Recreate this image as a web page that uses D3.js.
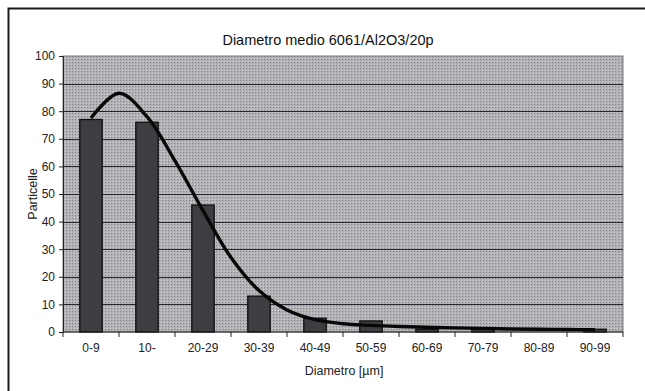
<!DOCTYPE html>
<html>
<head>
<meta charset="utf-8">
<script src="https://cdn.jsdelivr.net/npm/d3@7"></script>
<style>
  body { margin: 0; background: #fff; }
  svg { display: block; font-family: "Liberation Sans", Arial, sans-serif; }
</style>
</head>
<body>
<div id="chart"></div>
<script>
// DATA
////////////////////////////
var categories = ['0-9', '10-', '20-29', '30-39', '40-49', '50-59', '60-69', '70-79', '80-89', '90-99'];
var counts     = [77, 76, 46, 13, 5, 4, 1, 1, 0, 1];
// fitted curve, read at half-category steps (position in categories, value)
var curvePos   = [0, 0.5, 1, 1.5, 2, 2.5, 3, 3.5, 4, 4.5, 5, 5.5, 6, 6.5, 7, 7.5, 8, 8.5, 9];
var curveVal   = [77.5, 86.5, 78, 62, 44, 27, 15, 8, 4.5, 3, 2.4, 2, 1.7, 1.5, 1.3, 1.1, 1, 0.9, 0.8];
var yTicks     = [0, 10, 20, 30, 40, 50, 60, 70, 80, 90, 100];

// SETUP
////////////////////////////
var width = 645,
    height = 391;
var margin = {top: 56, right: 22, bottom: 59, left: 63};
var w = width - margin.left - margin.right,
    h = height - margin.top - margin.bottom;

var svg = d3.select('#chart').append('svg')
    .attr('width', width)
    .attr('height', height);

// dotted grey fill like the printed plot area
var defs = svg.append('defs');
var pat = defs.append('pattern')
    .attr('id', 'dots')
    .attr('width', 3).attr('height', 3)
    .attr('patternUnits', 'userSpaceOnUse');
pat.append('rect').attr('width', 3).attr('height', 3).attr('fill', '#b2b2b6');
pat.append('rect').attr('width', 1).attr('height', 1).attr('fill', '#858589');
pat.append('rect').attr('x', 2).attr('y', 2).attr('width', 1).attr('height', 1).attr('fill', '#cfcfd0');

// outer chart border (runs off right/bottom edge)
svg.append('rect')
    .attr('x', 8.5).attr('y', 8.5)
    .attr('width', 660).attr('height', 400)
    .attr('fill', 'none')
    .attr('stroke', '#1a1a1a')
    .attr('stroke-width', 2);

var g = svg.append('g')
    .attr('transform', 'translate(' + margin.left + ',' + margin.top + ')');

// scales
var x = d3.scaleBand()
    .domain(categories)
    .range([0, w])
    .paddingInner(0.6)
    .paddingOuter(0.3);
var y = d3.scaleLinear()
    .domain([0, 100])
    .range([h, 0]);
var xPos = d3.scaleLinear()   // numeric position -> band centre
    .domain([0, categories.length - 1])
    .range([x(categories[0]) + x.bandwidth() / 2, x(categories[categories.length - 1]) + x.bandwidth() / 2]);

// plot area
g.append('rect')
    .attr('width', w).attr('height', h)
    .attr('fill', 'url(#dots)')
    .attr('stroke', '#7a7a7a')
    .attr('stroke-width', 1);

// gridlines
g.selectAll('.grid')
  .data(yTicks.slice(1, -1))
  .enter().append('line')
    .attr('class', 'grid')
    .attr('x1', 0).attr('x2', w)
    .attr('y1', function(d) { return Math.round(y(d)) + 0.5; })
    .attr('y2', function(d) { return Math.round(y(d)) + 0.5; })
    .attr('stroke', '#26262e')
    .attr('stroke-width', 1);

// bars
g.selectAll('.bar')
  .data(counts)
  .enter().append('rect')
    .attr('class', 'bar')
    .attr('x', function(d, i) { return x(categories[i]); })
    .attr('y', function(d) { return y(d); })
    .attr('width', x.bandwidth())
    .attr('height', function(d) { return h - y(d); })
    .attr('fill', '#3e3e42')
    .attr('stroke', '#0e0e0e')
    .attr('stroke-width', 1.3);

// fitted curve
var line = d3.line()
    .x(function(d, i) { return xPos(curvePos[i]); })
    .y(function(d) { return y(d); })
    .curve(d3.curveCatmullRom.alpha(0.5));
g.append('path')
    .datum(curveVal)
    .attr('d', line)
    .attr('fill', 'none')
    .attr('stroke', '#080808')
    .attr('stroke-width', 3.4);

// axes
var xAxis = g.append('g')
    .attr('transform', 'translate(0,' + h + ')');
xAxis.append('line')
    .attr('x1', 0).attr('x2', w)
    .attr('stroke', '#222');
var step = x.step();
xAxis.selectAll('.xtick')
  .data(d3.range(categories.length + 1))
  .enter().append('line')
    .attr('x1', function(d) { return d * step; })
    .attr('x2', function(d) { return d * step; })
    .attr('y1', 0).attr('y2', 5)
    .attr('stroke', '#222');
xAxis.selectAll('.xlab')
  .data(categories)
  .enter().append('text')
    .attr('x', function(d) { return x(d) + x.bandwidth() / 2; })
    .attr('y', 20)
    .attr('text-anchor', 'middle')
    .attr('font-size', 12)
    .attr('fill', '#222')
    .text(function(d) { return d; });

var yAxis = g.append('g')
    .call(d3.axisLeft(y).tickValues(yTicks).tickSize(4).tickPadding(4));
yAxis.select('.domain').attr('stroke', '#222');
yAxis.selectAll('.tick line').attr('stroke', '#222');
yAxis.selectAll('.tick text')
    .attr('font-size', 12)
    .attr('font-family', '"Liberation Sans", Arial, sans-serif')
    .attr('fill', '#222');

// titles
svg.append('text')
    .attr('x', 328).attr('y', 45)
    .attr('text-anchor', 'middle')
    .attr('font-size', 14.5)
    .attr('fill', '#111')
    .text('Diametro medio 6061/Al2O3/20p');

svg.append('text')
    .attr('x', 344).attr('y', 375)
    .attr('text-anchor', 'middle')
    .attr('font-size', 12.5)
    .attr('fill', '#222')
    .text('Diametro [µm]');

svg.append('text')
    .attr('transform', 'translate(37,' + (margin.top + h / 2) + ') rotate(-90)')
    .attr('text-anchor', 'middle')
    .attr('font-size', 12.5)
    .attr('fill', '#222')
    .text('Particelle');
</script>
</body>
</html>
